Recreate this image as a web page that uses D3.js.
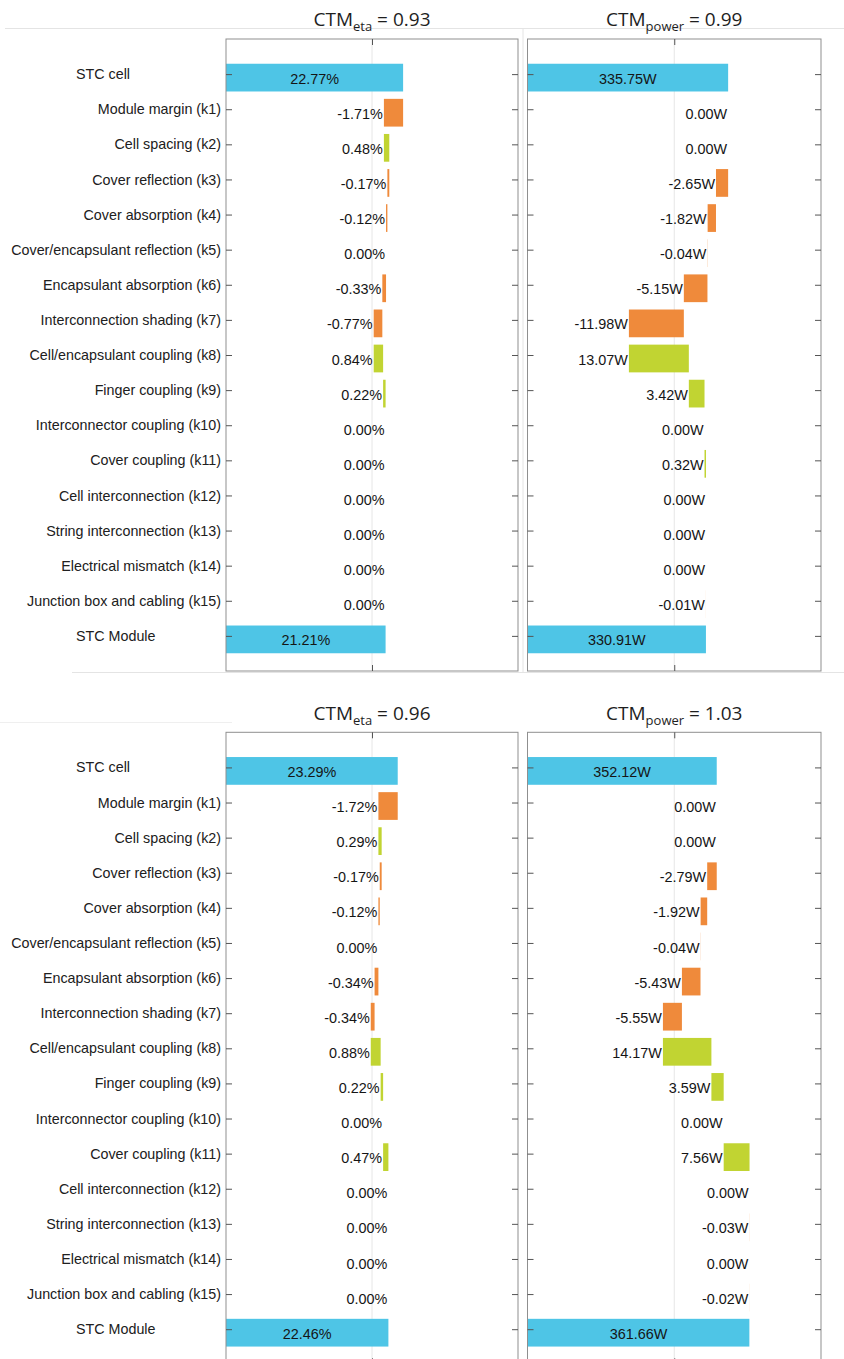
<!DOCTYPE html>
<html><head><meta charset="utf-8">
<script src="https://cdn.jsdelivr.net/npm/d3@7"></script>
<style>body{margin:0;background:#fff;} svg{display:block}</style>
</head><body>
<svg id="chart" width="844" height="1359"></svg>
<script>
const categories = ["STC cell","Module margin (k1)","Cell spacing (k2)","Cover reflection (k3)","Cover absorption (k4)",
  "Cover/encapsulant reflection (k5)","Encapsulant absorption (k6)","Interconnection shading (k7)",
  "Cell/encapsulant coupling (k8)","Finger coupling (k9)","Interconnector coupling (k10)","Cover coupling (k11)",
  "Cell interconnection (k12)","String interconnection (k13)","Electrical mismatch (k14)",
  "Junction box and cabling (k15)","STC Module"];

const etaTopValues = [22.77, -1.71, 0.48, -0.17, -0.12, 0.00, -0.33, -0.77, 0.84, 0.22, 0.00, 0.00, 0.00, 0.00, 0.00, 0.00, 21.21];
const powerTopValues = [335.75, 0.00, 0.00, -2.65, -1.82, -0.04, -5.15, -11.98, 13.07, 3.42, 0.00, 0.32, 0.00, 0.00, 0.00, -0.01, 330.91];
const etaBottomValues = [23.29, -1.72, 0.29, -0.17, -0.12, 0.00, -0.34, -0.34, 0.88, 0.22, 0.00, 0.47, 0.00, 0.00, 0.00, 0.00, 22.46];
const powerBottomValues = [352.12, 0.00, 0.00, -2.79, -1.92, -0.04, -5.43, -5.55, 14.17, 3.59, 0.00, 7.56, 0.00, -0.03, 0.00, -0.02, 361.66];

const ctmTitles = [["eta","0.93"],["power","0.99"],["eta","0.96"],["power","1.03"]];
const xDomains = [[7,33],[292,356],[8,34],[296.8,382.6]];
const xTickValues = [[20],[324],[21],[339.7]];
const units = ["%","W","%","W"];

const colors = {total:"#4EC5E6", neg:"#EF8A3B", pos:"#C1D432"};

const svg = d3.select("#chart");

// separators
const sep = svg.append("g").attr("stroke","#e4e4e4").attr("stroke-width",1);
sep.append("line").attr("x1",5).attr("x2",844).attr("y1",28.5).attr("y2",28.5);
sep.append("line").attr("x1",523).attr("x2",523).attr("y1",28.5).attr("y2",672);
sep.append("line").attr("x1",72).attr("x2",844).attr("y1",672.5).attr("y2",672.5);
sep.append("line").attr("x1",0).attr("x2",232).attr("y1",722.5).attr("y2",722.5).attr("stroke","#efefef");

const panels = [
  {values: etaTopValues, x0:226, x1:518, y0:39, y1:671, titleY:26, labels:true},
  {values: powerTopValues, x0:527.5, x1:821, y0:39, y1:671, titleY:26, labels:false},
  {values: etaBottomValues, x0:226, x1:518, y0:732.3, y1:1364.3, titleY:720, labels:true},
  {values: powerBottomValues, x0:527.5, x1:821, y0:732.3, y1:1364.3, titleY:720, labels:false}
];

panels.forEach((p, pi) => {
  const x = d3.scaleLinear().domain(xDomains[pi]).range([p.x0, p.x1]);
  const y = d3.scaleLinear().domain([0, categories.length + 1]).range([p.y0, p.y1]);
  const step = y(1) - y(0);
  const barH = step * 0.79;
  const barOff = 3.5;
  const unit = units[pi];
  const g = svg.append("g");

  // title
  const t = g.append("text").attr("x", (p.x0 + p.x1) / 2).attr("y", p.titleY)
    .attr("text-anchor","middle").attr("font-family","'Open Sans', 'Noto Sans', sans-serif")
    .attr("font-size",19).attr("fill","#1e1e1e");
  t.append("tspan").text("CTM");
  t.append("tspan").attr("font-size",13).attr("dy",5).text(ctmTitles[pi][0]);
  t.append("tspan").attr("dy",-5).text(" = " + ctmTitles[pi][1]);

  // gridline
  g.selectAll(".grid").data(xTickValues[pi]).join("line")
    .attr("x1", d => x(d)).attr("x2", d => x(d)).attr("y1", p.y0).attr("y2", p.y1)
    .attr("stroke","#e6e6e6").attr("stroke-width",1);

  // waterfall data
  const vals = p.values;
  const n = vals.length;
  let running = vals[0];
  const bars = vals.map((v, i) => {
    if (i === 0 || i === n - 1) {
      return {i, type:"total", a: xDomains[pi][0], b: v, v};
    }
    const a = running, b = running + v;
    running = b;
    return {i, type: v < 0 ? "neg" : (v > 0 ? "pos" : "zero"), a, b, v};
  });

  g.selectAll(".bar").data(bars.filter(d => d.type !== "zero")).join("rect")
    .attr("x", d => x(Math.min(d.a, d.b)))
    .attr("width", d => Math.abs(x(d.b) - x(d.a)))
    .attr("y", d => y(d.i + 1) + barOff - barH / 2)
    .attr("height", barH)
    .attr("fill", d => colors[d.type]);

  g.selectAll(".vlab").data(bars).join("text")
    .attr("x", d => d.type === "total" ? (x(d.a) + x(d.b)) / 2 : x(Math.min(d.a, d.b)) - 1)
    .attr("y", d => y(d.i + 1) + barOff + 1)
    .attr("dy","0.35em")
    .attr("text-anchor", d => d.type === "total" ? "middle" : "end")
    .attr("font-family","'Liberation Sans', Arial, sans-serif")
    .attr("font-size",14.4).attr("fill","#151515")
    .text(d => d.v.toFixed(2) + unit);

  // frame
  g.append("rect").attr("x", p.x0).attr("y", p.y0).attr("width", p.x1 - p.x0).attr("height", p.y1 - p.y0)
    .attr("fill","none").attr("stroke","#8f8f8f").attr("stroke-width",1);

  const rows = d3.range(1, categories.length + 1);
  // left axis
  const left = g.append("g").attr("transform", `translate(${p.x0},0)`)
    .call(d3.axisLeft(y).tickValues(rows).tickSize(-6).tickPadding(5)
      .tickFormat(d => p.labels ? categories[d - 1] : ""));
  left.select(".domain").remove();
  left.selectAll(".tick line").attr("stroke","#555");
  left.selectAll(".tick text").attr("font-family","'Liberation Sans', Arial, sans-serif")
    .attr("font-size",14.3).attr("fill","#202020");
  left.selectAll(".tick text").filter(d => d === 1 || d === categories.length)
    .attr("text-anchor","start").attr("x", 76 - p.x0);

  // right axis
  const right = g.append("g").attr("transform", `translate(${p.x1},0)`)
    .call(d3.axisRight(y).tickValues(rows).tickSize(-6).tickFormat(""));
  right.select(".domain").remove();
  right.selectAll(".tick line").attr("stroke","#555");

  // top / bottom x ticks
  const top = g.append("g").attr("transform", `translate(0,${p.y0})`)
    .call(d3.axisTop(x).tickValues(xTickValues[pi]).tickSize(-6).tickFormat(""));
  top.select(".domain").remove();
  top.selectAll(".tick line").attr("stroke","#555");
  const bot = g.append("g").attr("transform", `translate(0,${p.y1})`)
    .call(d3.axisBottom(x).tickValues(xTickValues[pi]).tickSize(-6).tickFormat(""));
  bot.select(".domain").remove();
  bot.selectAll(".tick line").attr("stroke","#555");
});
</script>
</body></html>
